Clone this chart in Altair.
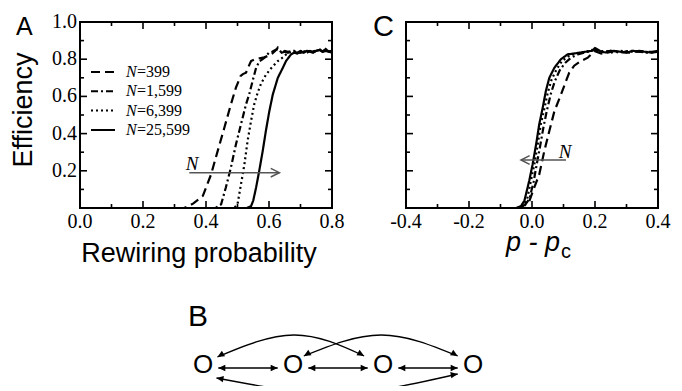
import altair as alt
import pandas as pd

# ---------------- data ----------------
SERIES = ["N=399", "N=1,599", "N=6,399", "N=25,599"]
LEGEND_NUM = ["=399", "=1,599", "=6,399", "=25,599"]
DASHES = [[9, 5], [7, 3, 2, 3], [2, 3], [1, 0]]

# Panel A : efficiency vs rewiring probability
A399_P = [0.31, 0.33, 0.345, 0.36, 0.39, 0.416, 0.437, 0.458, 0.479, 0.495, 0.51, 0.517, 0.527, 0.535, 0.543,
          0.555, 0.57, 0.585, 0.60, 0.61, 0.62, 0.628, 0.64, 0.65, 0.66, 0.67, 0.68, 0.69, 0.70, 0.71, 0.72,
          0.73, 0.74, 0.75, 0.76, 0.77, 0.78, 0.79, 0.80]
A399_E = [0.0, 0.0, 0.01, 0.025, 0.065, 0.18, 0.306, 0.43, 0.557, 0.647, 0.71, 0.72, 0.727, 0.76, 0.79,
          0.80, 0.805, 0.81, 0.82, 0.83, 0.845, 0.862, 0.835, 0.84, 0.835, 0.845, 0.84, 0.835, 0.845, 0.84, 0.835,
          0.845, 0.84, 0.85, 0.855, 0.84, 0.845, 0.835, 0.84]
A1599_P = [0.40, 0.43, 0.448, 0.463, 0.479, 0.495, 0.511, 0.527, 0.537, 0.548, 0.559, 0.57, 0.58, 0.59,
           0.60, 0.61, 0.62, 0.63, 0.64, 0.65, 0.66, 0.68, 0.70, 0.72, 0.74, 0.76, 0.78, 0.80]
A1599_E = [0.0, 0.0, 0.02, 0.11, 0.217, 0.342, 0.45, 0.557, 0.61, 0.683, 0.754, 0.79, 0.80, 0.815,
           0.835, 0.84, 0.85, 0.855, 0.835, 0.845, 0.84, 0.845, 0.835, 0.845, 0.84, 0.85, 0.84, 0.845]
A6399_P = [0.46, 0.49, 0.50, 0.511, 0.522, 0.532, 0.543, 0.553, 0.564, 0.575, 0.59, 0.606, 0.628, 0.644,
           0.66, 0.68, 0.70, 0.72, 0.74, 0.76, 0.78, 0.80]
A6399_E = [0.0, 0.0, 0.02, 0.127, 0.235, 0.36, 0.468, 0.557, 0.62, 0.67, 0.715, 0.75, 0.79, 0.81,
           0.835, 0.84, 0.835, 0.845, 0.84, 0.85, 0.845, 0.84]
A25599_P = [0.50, 0.53, 0.543, 0.55, 0.559, 0.569, 0.58, 0.59, 0.601, 0.612, 0.628, 0.644, 0.654, 0.67,
            0.68, 0.69, 0.70, 0.71, 0.72, 0.73, 0.74, 0.75, 0.76, 0.77, 0.78, 0.79, 0.80]
A25599_E = [0.0, 0.0, 0.01, 0.04, 0.11, 0.2, 0.306, 0.414, 0.52, 0.61, 0.70, 0.754, 0.79, 0.826,
            0.835, 0.83, 0.84, 0.835, 0.845, 0.84, 0.835, 0.845, 0.85, 0.84, 0.855, 0.84, 0.835]

# Panel C : efficiency vs p - p_c
C399_X = [-0.09, -0.05, -0.035, -0.01, 0.007, 0.023, 0.039, 0.055, 0.071, 0.092, 0.108, 0.118, 0.134,
          0.155, 0.177, 0.198, 0.22, 0.25, 0.28, 0.31, 0.34, 0.37, 0.40]
C399_E = [0.0, 0.0, 0.005, 0.03, 0.11, 0.18, 0.306, 0.414, 0.52, 0.61, 0.683, 0.727, 0.765,
          0.79, 0.808, 0.844, 0.83, 0.845, 0.84, 0.835, 0.845, 0.84, 0.84]
C1599_X = [-0.07, -0.04, -0.025, -0.008, 0.005, 0.015, 0.026, 0.037, 0.048, 0.06, 0.072, 0.088, 0.105,
           0.125, 0.145, 0.165, 0.185, 0.20, 0.22, 0.25, 0.28, 0.31, 0.34, 0.37, 0.40]
C1599_E = [0.0, 0.0, 0.01, 0.05, 0.14, 0.235, 0.335, 0.44, 0.53, 0.615, 0.68, 0.74, 0.78,
           0.81, 0.825, 0.835, 0.845, 0.85, 0.84, 0.845, 0.835, 0.845, 0.84, 0.835, 0.845]
C6399_X = [-0.08, -0.045, -0.03, -0.015, -0.003, 0.008, 0.018, 0.028, 0.04, 0.05, 0.062, 0.078, 0.095,
           0.115, 0.135, 0.155, 0.175, 0.19, 0.21, 0.23, 0.25, 0.28, 0.31, 0.34, 0.37, 0.40]
C6399_E = [0.0, 0.0, 0.01, 0.05, 0.15, 0.24, 0.34, 0.45, 0.54, 0.62, 0.69, 0.745, 0.79,
           0.815, 0.83, 0.835, 0.84, 0.85, 0.84, 0.845, 0.835, 0.845, 0.84, 0.845, 0.835, 0.84]
C25599_X = [-0.09, -0.05, -0.035, -0.024, -0.009, 0.002, 0.013, 0.023, 0.034, 0.044, 0.055, 0.071, 0.092,
            0.113, 0.13, 0.15, 0.17, 0.19, 0.20, 0.22, 0.24, 0.26, 0.28, 0.30, 0.32, 0.34, 0.36, 0.38, 0.40]
C25599_E = [0.0, 0.0, 0.01, 0.04, 0.145, 0.235, 0.342, 0.45, 0.539, 0.629, 0.70, 0.754, 0.80,
            0.826, 0.83, 0.835, 0.84, 0.845, 0.86, 0.84, 0.835, 0.845, 0.84, 0.835, 0.845, 0.84, 0.84, 0.835, 0.84]

# axis ticks and tick labels
A_X_MAJOR = [0.0, 0.2, 0.4, 0.6, 0.8]
A_X_LABELS = ["0.0", "0.2", "0.4", "0.6", "0.8"]
A_X_MINOR = [0.1, 0.3, 0.5, 0.7]
C_X_MAJOR = [-0.4, -0.2, 0.0, 0.2, 0.4]
C_X_LABELS = ["-0.4", "-0.2", "0.0", "0.2", "0.4"]
C_X_MINOR = [-0.3, -0.1, 0.1, 0.3]
Y_MAJOR = [0.2, 0.4, 0.6, 0.8, 1.0]
Y_LABELS = ["0.2", "0.4", "0.6", "0.8", "1.0"]
Y_MINOR = [0.1, 0.3, 0.5, 0.7, 0.9]

# arrows (start x, end x, y) and "N" labels
ARROW_A = [0.347, 0.633, 0.19]
LABEL_A = [0.336, 0.205]
ARROW_C = [0.108, -0.035, 0.258]
LABEL_C = [0.085, 0.27]

# Panel B : network diagram
NODE_X = [0, 1, 2, 3]
ARC1_X = [0.16, 1.01, 1.79]
ARC1_Y = [11, 33, 12]
ARC2_X = [1.12, 1.98, 2.83]
ARC2_Y = [12, 33, 12]
ARC3_X = [0.15, 1.5, 2.83]
ARC3_Y = [-10, -25, -6]

# ---------------- layout ----------------
W, H = 252, 186
SERIF = "Liberation Serif"
SANS = "Liberation Sans"
LEFT_EDGE = -70  # common left bound for top row and panel B


def curves(items):
    rows = []
    for name, xs, ys in items:
        for k, (x, y) in enumerate(zip(xs, ys)):
            rows.append({"series": name, "x": x, "y": y, "k": k})
    return pd.DataFrame(rows)


def one(**kw):
    return pd.DataFrame({k: [v] for k, v in kw.items()})


def text_layer(t, x, y, size, font=SANS, style="normal", align="left", baseline="alphabetic", angle=0):
    kw = dict(font=font, fontSize=size, fontStyle=style, align=align, baseline=baseline, color="black")
    if angle:
        kw["angle"] = angle
    return alt.Chart(one(t=t)).mark_text(**kw).encode(text="t:N", x=alt.value(x), y=alt.value(y))


def spacer(y2):
    return alt.Chart(one(t="s")).mark_rule(opacity=0, strokeWidth=1).encode(
        x=alt.value(LEFT_EDGE), y=alt.value(0), y2=alt.value(y2))


def tick_layers(xmaj, xmin, xlabels, X, Y, ylabels=True):
    out = []
    for vals, L in ((xmaj, 7), (xmin, 4)):
        base = alt.Chart(pd.DataFrame({"x": vals})).mark_rule(color="black", strokeWidth=1.6)
        out.append(base.encode(x=X, y=alt.value(H), y2=alt.value(H - L)))
        out.append(base.encode(x=X, y=alt.value(0), y2=alt.value(L)))
    for vals, L in ((Y_MAJOR, 7), (Y_MINOR, 4)):
        base = alt.Chart(pd.DataFrame({"y": vals})).mark_rule(color="black", strokeWidth=1.6)
        out.append(base.encode(y=Y, x=alt.value(0), x2=alt.value(L)))
        out.append(base.encode(y=Y, x=alt.value(W), x2=alt.value(W - L)))
    out.append(alt.Chart(pd.DataFrame({"x": xmaj, "t": xlabels})).mark_text(
        font=SERIF, fontSize=20, align="center", baseline="alphabetic", color="black").encode(
        x=X, y=alt.value(H + 20), text="t:N"))
    if ylabels:
        out.append(alt.Chart(pd.DataFrame({"y": Y_MAJOR, "t": Y_LABELS})).mark_text(
            font=SERIF, fontSize=20, align="right", baseline="middle", color="black").encode(
            y=Y, x=alt.value(-3), text="t:N"))
    return out


def arrow_layers(arrow, label, X, Y, head_shape):
    x0, x1, yv = arrow
    line = alt.Chart(pd.DataFrame({"x": [x0], "x2": [x1], "y": [yv]})).mark_rule(
        color="#555", strokeWidth=1.5).encode(x=X, x2="x2:Q", y=Y)
    head = alt.Chart(pd.DataFrame({"x": [x1], "y": [yv]})).mark_point(
        shape=head_shape, size=300, filled=False, stroke="#555", strokeWidth=1.5, opacity=1).encode(x=X, y=Y)
    lab = alt.Chart(pd.DataFrame({"x": [label[0]], "y": [label[1]], "t": ["N"]})).mark_text(
        font=SERIF, fontStyle="italic", fontSize=19, align="left", baseline="alphabetic", color="black"
    ).encode(x=X, y=Y, text="t:N")
    return [line, head, lab]


dash_enc = alt.StrokeDash("series:N", scale=alt.Scale(domain=SERIES, range=DASHES), legend=None)
yscale = alt.Scale(domain=[0, 1], nice=False, zero=False)

# ----- Panel A -----
XA = alt.X("x:Q", scale=alt.Scale(domain=[0, 0.8], nice=False, zero=False), axis=None)
YA = alt.Y("y:Q", scale=yscale, axis=None)
dfA = curves([(SERIES[0], A399_P, A399_E), (SERIES[1], A1599_P, A1599_E),
              (SERIES[2], A6399_P, A6399_E), (SERIES[3], A25599_P, A25599_E)])
linesA = alt.Chart(dfA).mark_line(color="black", strokeWidth=2.2, clip=True).encode(
    x=XA, y=YA, strokeDash=dash_enc, order="k:Q")

legend = []
for i, name in enumerate(SERIES):
    ypx = 50 + 19.3 * i
    legend.append(alt.Chart(one(t=name)).mark_rule(color="black", strokeWidth=2, strokeDash=DASHES[i]).encode(
        x=alt.value(11), x2=alt.value(35), y=alt.value(ypx)))
    legend.append(text_layer("N", 46, ypx, 16, font=SERIF, style="italic", baseline="middle"))
    legend.append(text_layer(LEGEND_NUM[i], 57, ypx, 16, font=SERIF, baseline="middle"))

panelA = alt.layer(
    linesA, *tick_layers(A_X_MAJOR, A_X_MINOR, A_X_LABELS, XA, YA), *legend,
    *arrow_layers(ARROW_A, LABEL_A, XA, YA, "M-1,-0.5L0,0L-1,0.5"),
    text_layer("A", -64, 13, 25),
    text_layer("Efficiency", -48, 88, 27, align="center", angle=270),
    text_layer("Rewiring probability", 119, 240, 27, align="center"),
    spacer(250),
).properties(width=W, height=H)

# ----- Panel C -----
XC = alt.X("x:Q", scale=alt.Scale(domain=[-0.4, 0.4], nice=False, zero=False), axis=None)
YC = alt.Y("y:Q", scale=yscale, axis=None)
dfC = curves([(SERIES[0], C399_X, C399_E), (SERIES[1], C1599_X, C1599_E),
              (SERIES[2], C6399_X, C6399_E), (SERIES[3], C25599_X, C25599_E)])
linesC = alt.Chart(dfC).mark_line(color="black", strokeWidth=2.2, clip=True).encode(
    x=XC, y=YC, strokeDash=dash_enc, order="k:Q")

panelC = alt.layer(
    linesC, *tick_layers(C_X_MAJOR, C_X_MINOR, C_X_LABELS, XC, YC, ylabels=False),
    *arrow_layers(ARROW_C, LABEL_C, XC, YC, "M1,-0.5L0,0L1,0.5"),
    text_layer("C", -33, 14, 29),
    text_layer("p - p", 100, 229, 27, style="italic"),
    text_layer("c", 155, 236, 20),
).properties(width=W, height=H)

# ----- Panel B -----
BW, BH = 2 * W + 74, 93
XB = alt.X("x:Q", scale=alt.Scale(domain=[-1.3667, 5.0556], nice=False, zero=False), axis=None)
YB = alt.Y("y:Q", scale=alt.Scale(domain=[-18, 75], nice=False, zero=False), axis=None)

GAP = 0.17
seg_rows, head_rows = [], []
for i in range(len(NODE_X) - 1):
    a, b = NODE_X[i] + GAP, NODE_X[i + 1] - GAP
    seg_rows.append({"x": a, "x2": b, "y": 0})
    head_rows += [{"x": a, "y": 0, "a": 180}, {"x": b, "y": 0, "a": 0}]
for xs, ys, a0, a1 in ((ARC1_X, ARC1_Y, 150, 30), (ARC2_X, ARC2_Y, 150, 30), (ARC3_X, ARC3_Y, 190, 350)):
    head_rows += [{"x": xs[0], "y": ys[0], "a": a0}, {"x": xs[-1], "y": ys[-1], "a": a1}]
arc_df = curves([("arc1", ARC1_X, ARC1_Y), ("arc2", ARC2_X, ARC2_Y), ("arc3", ARC3_X, ARC3_Y)])

b_segs = alt.Chart(pd.DataFrame(seg_rows)).mark_rule(color="black", strokeWidth=1.3).encode(
    x=XB, x2="x2:Q", y=YB)
b_arcs = alt.Chart(arc_df).mark_line(color="black", strokeWidth=1.3, interpolate="natural", clip=True).encode(
    x=XB, y=YB, detail="series:N", order="k:Q")
b_heads = alt.Chart(pd.DataFrame(head_rows)).mark_point(
    shape="M0,0L-1,-0.45L-1,0.45Z", size=196, filled=True, color="black", opacity=1).encode(
    x=XB, y=YB, angle=alt.Angle("a:Q", scale=None))
b_nodes = alt.Chart(pd.DataFrame({"x": NODE_X, "y": [0] * 4, "t": ["O"] * 4})).mark_text(
    font=SANS, fontSize=26, align="center", baseline="middle", dy=-3, color="black").encode(
    x=XB, y=YB, text="t:N")

panelB = alt.layer(
    b_arcs, b_segs, b_heads, b_nodes, text_layer("B", 108, 33, 30), spacer(1)
).properties(width=BW, height=BH, view=alt.ViewBackground(stroke="transparent"))

top = alt.hconcat(panelA, panelC, spacing=74, bounds="flush")
chart = alt.vconcat(top, panelB, spacing=19).properties(
    padding={"left": 1, "top": 3, "right": 2, "bottom": 0}
).configure_view(stroke="black", strokeWidth=2)

chart.save("out.html", embed_options={"renderer": "svg", "actions": False})
